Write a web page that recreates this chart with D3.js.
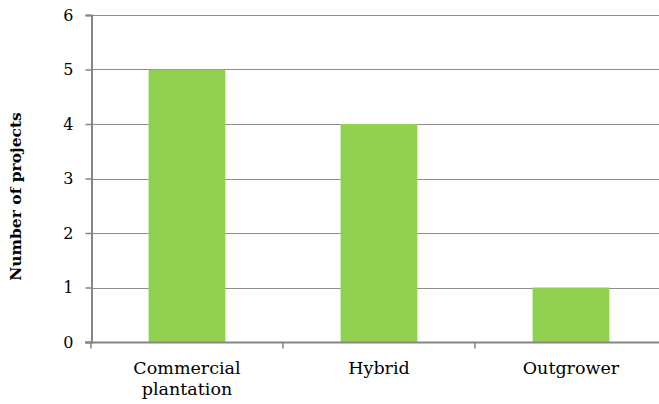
<!DOCTYPE html>
<html>
<head>
<meta charset="utf-8">
<script src="https://cdn.jsdelivr.net/npm/d3@7"></script>
<style>
  html, body { margin: 0; padding: 0; background: #fff; }
  svg text { font-family: "DejaVu Serif", "Liberation Serif", serif; fill: #000; font-variant-numeric: oldstyle-nums; }
</style>
</head>
<body>
<svg id="chart" width="659" height="404"></svg>
<script>
// Project counts by business model
const categories = ["Commercial plantation", "Hybrid", "Outgrower"];
const projectCounts = [5, 4, 1];
const yTicks = [0, 1, 2, 3, 4, 5, 6];

const svg = d3.select("#chart");
const margin = { left: 91, top: 15, bottom: 62 };
const plotRight = 667;
const plotBottom = 404 - margin.bottom;

const x = d3.scaleBand()
  .domain(categories)
  .range([margin.left, plotRight])
  .paddingInner(0)
  .paddingOuter(0);

const y = d3.scaleLinear()
  .domain([0, 6])
  .range([plotBottom, margin.top]);

const barWidth = x.bandwidth() * 0.4;

// horizontal gridlines
svg.append("g")
  .selectAll("line")
  .data(yTicks.filter(d => d > 0))
  .join("line")
  .attr("x1", margin.left)
  .attr("x2", plotRight)
  .attr("y1", d => Math.round(y(d)) + 0.5)
  .attr("y2", d => Math.round(y(d)) + 0.5)
  .attr("stroke", "#8c8c8c")
  .attr("stroke-width", 1);

// bars
svg.append("g")
  .selectAll("rect")
  .data(categories.map((c, i) => ({ c, v: projectCounts[i] })))
  .join("rect")
  .attr("x", d => x(d.c) + (x.bandwidth() - barWidth) / 2)
  .attr("width", barWidth)
  .attr("y", d => y(d.v))
  .attr("height", d => y(0) - y(d.v))
  .attr("fill", "#92d050");

// y axis
const yAxis = svg.append("g")
  .attr("transform", `translate(${margin.left + 0.5},0)`)
  .call(d3.axisLeft(y).tickValues(yTicks).tickSize(6).tickPadding(12).tickFormat(d3.format("d")));
yAxis.select(".domain").attr("stroke", "#868686").attr("stroke-width", 2);
yAxis.selectAll(".tick line").attr("stroke", "#868686").attr("stroke-width", 1.5);
yAxis.selectAll(".tick text").attr("font-size", 16).attr("fill", "#000");

// x axis
const xAxis = svg.append("g")
  .attr("transform", `translate(0,${plotBottom + 0.5})`);
xAxis.append("line")
  .attr("x1", margin.left - 6).attr("x2", plotRight)
  .attr("stroke", "#868686").attr("stroke-width", 2);
xAxis.selectAll("line.tk")
  .data(categories)
  .join("line")
  .attr("class", "tk")
  .attr("x1", d => x(d)).attr("x2", d => x(d))
  .attr("y1", 0).attr("y2", 6)
  .attr("stroke", "#868686").attr("stroke-width", 1.5);

// category labels, wrapped onto two lines where needed
const labelLines = { "Commercial plantation": ["Commercial", "plantation"] };
xAxis.selectAll("text.cat")
  .data(categories)
  .join("text")
  .attr("class", "cat")
  .attr("text-anchor", "middle")
  .attr("font-size", 17.5)
  .each(function (d) {
    const lines = labelLines[d] || [d];
    d3.select(this).selectAll("tspan")
      .data(lines)
      .join("tspan")
      .attr("x", x(d) + x.bandwidth() / 2)
      .attr("y", (l, i) => 31 + i * 21)
      .text(l => l);
  });

// y axis title
svg.append("text")
  .attr("transform", `translate(21,196.5) rotate(-90)`)
  .attr("text-anchor", "middle")
  .attr("font-size", 15.5)
  .attr("font-weight", "bold")
  .text("Number of projects");
</script>
</body>
</html>
